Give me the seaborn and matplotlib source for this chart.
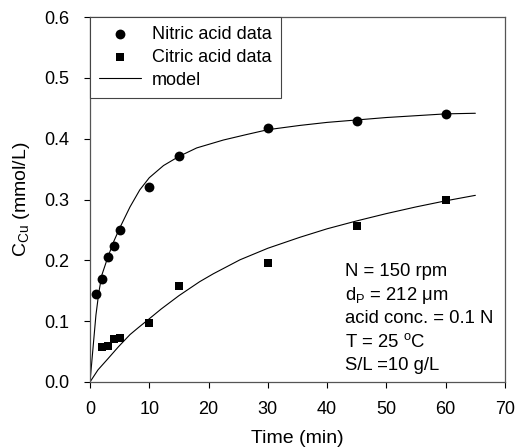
import matplotlib
matplotlib.use("Agg")
import matplotlib.pyplot as plt
import seaborn as sns
import pandas as pd

# data
nitric_t = [1, 2, 3, 4, 5, 10, 15, 30, 45, 60]
nitric_c = [0.144, 0.169, 0.205, 0.224, 0.250, 0.321, 0.371, 0.417, 0.430, 0.441]
citric_t = [2, 3, 4, 5, 10, 15, 30, 45, 60]
citric_c = [0.057, 0.060, 0.070, 0.073, 0.097, 0.158, 0.196, 0.256, 0.300]

nitric_model_t = [0, 0.5, 1, 1.5, 2, 3, 4, 5, 6.75, 8.4, 10, 12.4, 15, 18, 22.5, 26.4, 30,
                  35.4, 40, 45, 50, 55, 60, 65]
nitric_model_c = [0, 0.055, 0.110, 0.148, 0.176, 0.205, 0.231, 0.253, 0.288, 0.316, 0.336,
                  0.356, 0.371, 0.385, 0.398, 0.407, 0.415, 0.422, 0.427, 0.431, 0.435,
                  0.438, 0.441, 0.442]
citric_model_t = [0, 1.35, 3, 4.8, 6.75, 8.1, 10, 12, 15, 18.5, 20.8, 25.3, 30, 35.4, 40,
                  45, 50, 55, 60, 65]
citric_model_c = [0, 0.020, 0.038, 0.058, 0.078, 0.089, 0.104, 0.120, 0.142, 0.165, 0.178,
                  0.201, 0.220, 0.238, 0.252, 0.265, 0.277, 0.288, 0.298, 0.307]

x_ticks = [0, 10, 20, 30, 40, 50, 60, 70]
y_ticks = [0.0, 0.1, 0.2, 0.3, 0.4, 0.5, 0.6]

notes = ["N = 150 rpm", "d$_\\mathregular{P}$ = 212 μm", "acid conc. = 0.1 N",
         "T = 25 $^\\mathregular{o}$C", "S/L =10 g/L"]

sns.set_style("ticks")
plt.rcParams['font.family'] = ['Liberation Sans', 'DejaVu Sans']
plt.rcParams['mathtext.fontset'] = 'custom'
plt.rcParams['mathtext.rm'] = 'Liberation Sans'
plt.rcParams['mathtext.it'] = 'Liberation Sans:italic'
plt.rcParams['text.color'] = 'black'
plt.rcParams['axes.labelcolor'] = 'black'
plt.rcParams['xtick.color'] = 'black'
plt.rcParams['ytick.color'] = 'black'

fig = plt.figure(figsize=(5.16, 4.48), dpi=100)
ax = fig.add_axes([90/516, 1-382/448, (505-90)/516, (382-17.2)/448])

nit = pd.DataFrame({"t": nitric_t, "c": nitric_c})
cit = pd.DataFrame({"t": citric_t, "c": citric_c})
nm = pd.DataFrame({"t": nitric_model_t, "c": nitric_model_c})
cm = pd.DataFrame({"t": citric_model_t, "c": citric_model_c})

sns.lineplot(data=nm, x="t", y="c", ax=ax, color="black", linewidth=0.8, label="model", sort=False)
sns.lineplot(data=cm, x="t", y="c", ax=ax, color="black", linewidth=0.8, label="_nolegend_", sort=False)
sns.scatterplot(data=nit, x="t", y="c", ax=ax, color="black", marker="o", s=50,
                edgecolor="black", linewidth=0, label="Nitric acid data", zorder=3)
sns.scatterplot(data=cit, x="t", y="c", ax=ax, color="black", marker="s", s=38,
                edgecolor="black", linewidth=0, label="Citric acid data", zorder=3)

ax.set_xlim(0, 70)
ax.set_ylim(0, 0.6)
ax.set_xticks(x_ticks)
ax.set_yticks(y_ticks)
ax.set_yticklabels([f"{v:.1f}" for v in y_ticks])
ax.tick_params(direction="out", length=4, width=0.8, labelsize=13, colors="black")
ax.tick_params(axis="y", pad=11)
ax.tick_params(axis="x", pad=10)
for s in ax.spines.values():
    s.set_linewidth(0.9)
    s.set_color("#555555")
    s.set_visible(True)

ax.set_xlabel("Time (min)", fontsize=14, labelpad=8)
ax.set_ylabel("C$_\\mathregular{Cu}$ (mmol/L)", fontsize=14, labelpad=9)

h, l = ax.get_legend_handles_labels()
order = [l.index("Nitric acid data"), l.index("Citric acid data"), l.index("model")]
leg = ax.legend([h[i] for i in order], [l[i] for i in order], loc="upper left",
                bbox_to_anchor=(0, 1), borderaxespad=0, fancybox=False, framealpha=1,
                edgecolor="#444444", fontsize=13, handlelength=2.3, handletextpad=0.65,
                labelspacing=0.32, borderpad=0.5)
leg.get_frame().set_linewidth(0.8)

for i, txt in enumerate(notes):
    ax.text(345/516, 1 - (272 + i*23.3)/448, txt, transform=fig.transFigure,
            fontsize=13.3, va="center", ha="left")

fig.savefig("out.png", dpi=100)
